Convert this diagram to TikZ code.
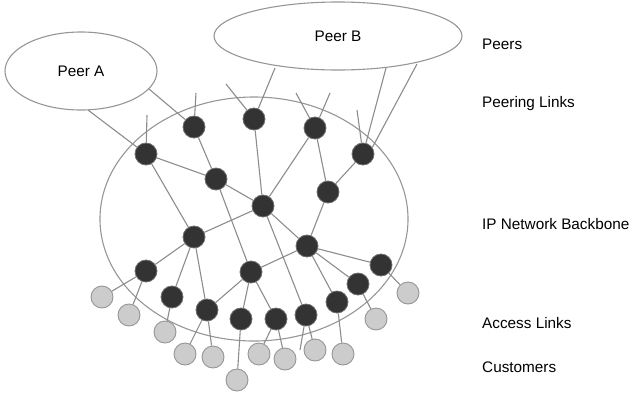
\documentclass[tikz,border=0pt]{standalone}
\usepackage{fontspec}
\setmainfont{Liberation Sans}
\usetikzlibrary{shapes.geometric}
\definecolor{linec}{RGB}{140,140,140}
\definecolor{ellc}{RGB}{150,150,150}
\definecolor{darkn}{RGB}{51,51,51}
\definecolor{darkb}{RGB}{110,110,110}
\definecolor{lightn}{RGB}{204,204,204}
\definecolor{lightb}{RGB}{150,150,150}
\begin{document}
\begin{tikzpicture}[x=1pt,y=-1pt,
  lnk/.style={draw=linec,line width=1.1pt},
  cloud/.style={ellipse,draw=ellc,line width=1.1pt,inner sep=0pt,font=\fontsize{15.3}{18}\selectfont},
  router/.style={circle,fill=darkn,draw=darkb,line width=0.8pt,minimum size=22pt,inner sep=0pt},
  cust/.style={circle,fill=lightn,draw=lightb,line width=0.9pt,minimum size=22pt,inner sep=0pt},
  lbl/.style={anchor=west,inner sep=0pt,font=\fontsize{15.3}{18}\selectfont}]
\useasboundingbox (0,0) rectangle (632,397);
% clouds
\node[cloud,minimum width=152pt,minimum height=78pt] (pa) at (81,71) {Peer A};
\node[cloud,minimum width=248pt,minimum height=68pt] (pb) at (338,36) {Peer B};
\node[ellipse,draw=ellc,line width=1.1pt,minimum width=308pt,minimum height=244pt,inner sep=0pt] (bb) at (254,219) {};
% routers
\node[router] (n1) at (146,154) {};
\node[router] (n2) at (194,127) {};
\node[router] (n3) at (254,119) {};
\node[router] (n4) at (315,128) {};
\node[router] (n5) at (216,179) {};
\node[router] (n6) at (363,154) {};
\node[router] (n7) at (328,192) {};
\node[router] (n8) at (263,206) {};
\node[router] (n9) at (194,237) {};
\node[router] (n10) at (146,271) {};
\node[router] (n11) at (172,297) {};
\node[router] (n12) at (207,310) {};
\node[router] (n13) at (251,272) {};
\node[router] (n14) at (241,319) {};
\node[router] (n15) at (276,319) {};
\node[router] (n16) at (307,246) {};
\node[router] (n17) at (381,265) {};
\node[router] (n18) at (358,284) {};
\node[router] (n19) at (337,302) {};
\node[router] (n20) at (306,315) {};
% customers
\node[cust] (g1) at (102,297) {};
\node[cust] (g2) at (129,315) {};
\node[cust] (g3) at (165,332) {};
\node[cust] (g4) at (185,354) {};
\node[cust] (g5) at (213,357) {};
\node[cust] (g6) at (237,380) {};
\node[cust] (g7) at (259,354) {};
\node[cust] (g8) at (285,359) {};
\node[cust] (g9) at (315,350) {};
\node[cust] (g10) at (343,354) {};
\node[cust] (g11) at (376,319) {};
\node[cust] (g12) at (408,293) {};
% attachment points and stub ends
\coordinate (pa1) at (88,110);
\coordinate (pa2) at (149,89);
\coordinate (pb1) at (275,68);
\coordinate (pb2) at (386,68);
\coordinate (pb3) at (417,64);
\coordinate (s1) at (147,115);
\coordinate (s2) at (196,93);
\coordinate (s3) at (226,84);
\coordinate (s4a) at (296,93);
\coordinate (s4b) at (330,93);
\coordinate (s6) at (357,110);
\coordinate (s20) at (300,350);
% peering links
\draw[lnk] (pa1) -- (n1);
\draw[lnk] (pa2) -- (n2);
\draw[lnk] (pb1) -- (n3);
\draw[lnk] (pb2) -- (n6);
\draw[lnk] (pb3) -- (n6.35);
\draw[lnk] (s1) -- (n1);
\draw[lnk] (s2) -- (n2);
\draw[lnk] (s3) -- (n3);
\draw[lnk] (s4a) -- (n4);
\draw[lnk] (s4b) -- (n4);
\draw[lnk] (s6) -- (n6);
% backbone
\draw[lnk] (n1) -- (n5);
\draw[lnk] (n2) -- (n5);
\draw[lnk] (n5) -- (n8);
\draw[lnk] (n3) -- (n8);
\draw[lnk] (n4) -- (n8);
\draw[lnk] (n4) -- (n7);
\draw[lnk] (n6) -- (n7);
\draw[lnk] (n7) -- (n16);
\draw[lnk] (n1) -- (n9);
\draw[lnk] (n5) -- (n13);
\draw[lnk] (n8) -- (n9);
\draw[lnk] (n8) -- (n16);
\draw[lnk] (n8) -- (n20);
\draw[lnk] (n9) -- (n10);
\draw[lnk] (n9) -- (n11);
\draw[lnk] (n9) -- (n12);
\draw[lnk] (n12) -- (n13);
\draw[lnk] (n13) -- (n16);
\draw[lnk] (n13) -- (n14);
\draw[lnk] (n13) -- (n15);
\draw[lnk] (n16) -- (n17);
\draw[lnk] (n16) -- (n18);
\draw[lnk] (n16) -- (n19);
% access links
\draw[lnk] (n10) -- (g1);
\draw[lnk] (n10) -- (g2);
\draw[lnk] (n11) -- (g3);
\draw[lnk] (n12) -- (g4);
\draw[lnk] (n12) -- (g5);
\draw[lnk] (n14) -- (g6);
\draw[lnk] (n15) -- (g7);
\draw[lnk] (n15) -- (g8);
\draw[lnk] (n20) -- (g9);
\draw[lnk] (n20) -- (s20);
\draw[lnk] (n19) -- (g10);
\draw[lnk] (n18) -- (g11);
\draw[lnk] (n17) -- (g12);
% labels
\node[lbl] (l1) at (482,44) {Peers};
\node[lbl] (l2) at (482,104) {Peering Links};
\node[lbl] (l3) at (482,224) {IP Network Backbone};
\node[lbl] (l4) at (482,323) {Access Links};
\node[lbl] (l5) at (482,367) {Customers};
\end{tikzpicture}
\end{document}
